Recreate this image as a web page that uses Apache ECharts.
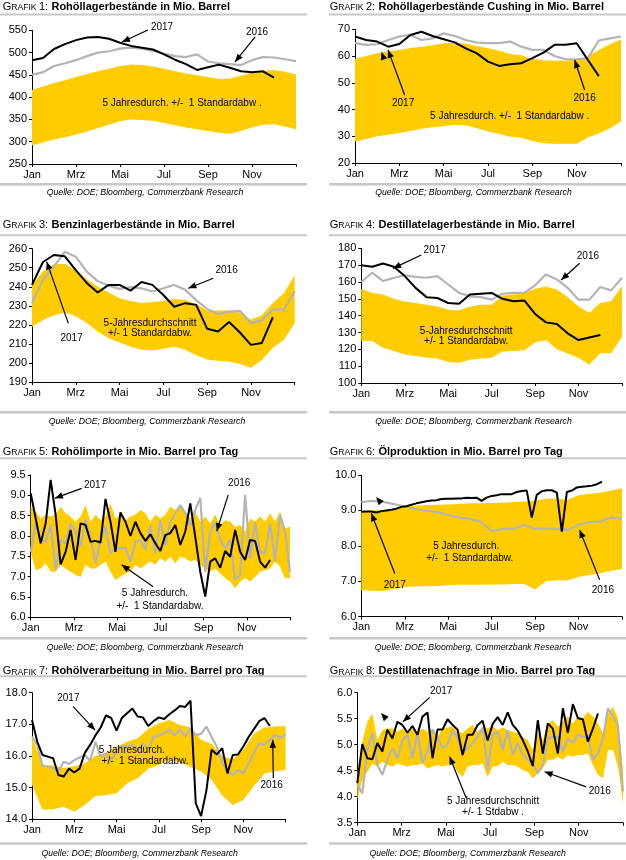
<!DOCTYPE html>
<html><head><meta charset="utf-8">
<script src="https://cdn.jsdelivr.net/npm/echarts@6/dist/echarts.min.js"></script>
<style>html,body{margin:0;padding:0;background:#fff}#c{width:626px;height:860px}</style>
</head><body><div id="c"></div>
<script>
// ---------- DATA ----------
const monthLabels = ['Jan','Mrz','Mai','Jul','Sep','Nov'];
const sourceText = 'Quelle: DOE; Bloomberg, Commerzbank Research';

// Grafik 1 (half-month steps)
const p1Lower = [292,298,305,310,316,323,331,338,346,350,349,347,342,337,332,328,324,320,318,324,332,338,339,334,328];
const p1Upper = [416,424,432,438,445,452,458,464,470,473,472,469,464,458,453,449,445,441,442,448,455,459,461,457,451];
const p1Y2016 = [450,456,470,476,483,492,500,503,509,511,509,504,498,492,490,496,480,476,474,472,483,490,489,485,481];
const p1Y2017 = [483,488,508,519,528,534,535,531,522,515,511,507,496,484,474,461,467,473,466,458,456,458,444];

// Grafik 2
const p2Lower = [28,29,30,30.6,31.2,32,32.8,33.4,33.7,34.3,34,33,31.8,30.8,29.8,29.4,28.2,27.4,27.2,27.2,27.2,29.5,31,33,35.5];
const p2Upper = [59,60,61,61.8,62.3,63,63.5,64,64.8,65,64.6,63.8,62.9,62,60.8,60.3,59,58.4,58.2,58.2,58.6,59.8,62.3,64.4,66.2];
const p2Y2016 = [64.8,64.2,64.4,66,67.3,67.9,66,66.6,68.5,67.5,66,65,64.8,64.8,65.4,63.5,62.3,62.3,60,58.8,58.8,59.2,65.8,66.6,67.3];
const p2Y2017 = [67.3,66,65.4,63.5,64.5,67.9,69.1,67.5,66.3,65.1,62.9,61,57.9,56.3,56.9,57.3,59.2,61.3,64.2,64.2,64.8,58.6,52.5];

// Grafik 3
const p3Lower = [219,222.5,225,226.5,224.5,221,216.5,213,210.8,208.5,207,206.6,207.5,208.5,207,204,201.8,201.2,200.8,199.5,197.5,201.5,208,212,221];
const p3Upper = [241,248,252,252,248.5,244,240,237,234,232.5,231.5,232,232.6,233.6,233,231,227.5,227.5,227.5,226.5,222.7,225,231.5,236.5,246];
const p3Y2016 = [231.5,244,250.6,258.4,255.8,248,243,240.6,238.9,239.8,239.2,237.5,239.2,241,238.4,233,228.4,225.6,227,227.4,220.9,222.5,228,228,237.5];
const p3Y2017 = [241,253,256.7,256,248.8,242,237,241,241,238,242.5,241,235.7,229.5,231.4,230.5,218,216.5,221.5,216,209.5,210.5,224];

// Grafik 4
const p4Lower = [125,125,121,119,117,116,115.2,114.5,112.4,112,113.8,114.5,115,118.7,119,119.5,124,125.5,120,117.5,114.8,111,117.7,117.7,127.5];
const p4Upper = [156,153.5,152.5,150,148.4,147.5,146.5,145.4,143.5,143,145.5,146.4,146.4,152,152.5,153.5,156,157.3,155.5,151,145.5,141.5,147.5,148.5,157.5];
const p4Y2016 = [160,165.5,160.5,162.5,164,163,162.5,163.5,158.5,153.5,151.5,151,149.5,153,153.5,153.5,158,164.5,161.5,156.5,149.5,149.5,157,155,162.5];
const p4Y2017 = [170,169,171,169,163.5,156.5,151,150.5,147.5,147,152.5,153,153.5,150,148.5,149,141,136,135,129.5,125.5,127,128.5];

// Grafik 5 (weekly)
const p5Lower = [7.61,7.16,7.20,7.33,7.12,7.12,7.29,7.2,7.12,7.04,7.0,7.29,7.2,7.2,7.29,7.37,7.12,6.92,7.0,7.08,7.12,7.29,7.2,7.29,7.37,7.29,7.45,7.37,7.49,7.33,7.49,7.45,7.37,7.41,7.29,7.2,7.12,7.2,7.08,6.96,6.88,6.71,6.88,6.96,6.88,7.0,7.12,7.16,7.2,7.37,7.25,6.96,6.96];
const p5Upper = [8.72,8.6,8.43,8.52,8.48,8.52,8.72,8.56,8.48,8.35,8.48,8.76,8.35,8.52,8.39,8.48,8.80,8.43,8.52,8.39,8.48,8.52,8.64,8.56,8.35,8.52,8.43,8.52,8.72,8.64,8.76,8.6,8.43,8.6,8.35,8.48,8.31,8.52,8.27,8.39,8.35,8.23,8.27,8.11,8.43,8.35,8.48,8.35,8.56,8.35,8.6,8.19,8.23];
const p5Y2016 = [7.61,8.31,7.90,7.86,8.27,7.16,7.90,7.82,8.31,8.11,7.74,8.39,7.98,7.33,7.90,8.23,7.57,7.70,7.70,7.71,7.37,7.86,7.90,7.66,8.27,7.57,8.39,7.78,8.35,8.56,8.76,8.56,8.27,8.64,8.94,7.12,8.11,8.35,7.90,7.70,7.90,6.92,7.04,9.01,7.45,8.35,7.61,7.57,8.31,7.37,8.52,8.11,7.12];
const p5Y2017 = [9.05,8.43,7.82,8.31,9.38,8.52,7.30,7.61,8.15,7.41,8.31,8.27,7.86,7.88,7.84,8.91,8.35,7.61,8.58,8.35,8.0,8.35,8.07,7.88,8.04,7.82,7.63,8.02,8.07,8.27,7.78,8.11,8.80,7.98,7.12,6.51,7.37,7.45,7.22,7.63,7.49,8.15,7.61,7.41,7.90,7.88,7.37,7.22,7.41];

// Grafik 6
const p6Lower = [6.75,6.73,6.72,6.78,6.84,6.85,6.86,6.87,6.89,6.9,6.9,6.9,6.91,6.91,6.92,6.92,6.77,7.0,7.03,7.02,7.13,7.18,7.23,7.3,7.35];
const p6Upper = [8.98,9.0,9.01,9.06,9.1,9.13,9.15,9.16,9.17,9.18,9.2,9.2,9.21,9.22,9.24,9.25,9.27,9.33,9.34,9.3,9.43,9.47,9.5,9.56,9.62];
const p6Y2016 = [9.23,9.27,9.24,9.18,9.11,9.04,8.99,8.95,8.87,8.8,8.76,8.68,8.42,8.48,8.48,8.59,8.48,8.49,8.48,8.45,8.59,8.68,8.68,8.8,8.76];
const p6Y2017 = [8.96,8.97,8.97,8.94,8.98,9.0,9.02,9.05,9.1,9.12,9.16,9.2,9.23,9.26,9.28,9.29,9.32,9.33,9.33,9.34,9.34,9.36,9.35,9.36,9.27,9.36,9.41,9.43,9.46,9.46,9.46,9.52,9.55,9.56,8.8,9.44,9.54,9.57,9.57,9.5,8.4,9.52,9.56,9.65,9.67,9.68,9.7,9.74,9.81];

// Grafik 7
const p7Lower = [15.08,14.3,14.32,14.4,14.24,14.45,14.74,14.76,14.82,15.14,15.3,15.6,15.72,15.87,15.8,15.65,15.51,15.25,14.75,14.45,14.61,15.05,15.45,15.52,15.56];
const p7Upper = [16.61,15.72,15.7,15.62,15.68,15.77,16.0,16.1,16.29,16.45,16.56,16.85,17.03,17.14,16.98,16.9,16.51,16.38,16.0,15.9,16.19,16.7,16.9,16.93,16.95];
const p7Y2016 = [16.61,16.35,15.68,15.66,15.62,15.5,15.82,15.75,15.87,15.95,16.03,15.85,16.45,15.98,16.08,15.87,16.14,16.32,16.3,16.35,16.19,16.4,16.2,16.6,16.65,16.72,16.84,16.65,16.84,16.62,16.87,16.66,16.7,16.93,16.6,16.29,15.8,15.5,15.4,15.56,15.45,15.77,16.1,16.4,16.35,16.51,16.66,16.56,16.7];
const p7Y2017 = [17.14,16.45,16.03,15.98,15.93,15.4,15.35,15.6,15.48,15.6,16.1,16.35,16.65,16.9,17.28,17.2,16.8,17.2,17.35,17.5,17.25,17.22,16.95,17.1,17.22,17.17,17.32,17.44,17.58,17.55,17.75,14.5,14.1,14.9,16.2,16.05,16.25,15.45,16.03,16.05,16.3,16.6,16.85,17.1,17.2,16.95];

// Grafik 8 (weekly)
const p8Lower = [3.94,4.32,4.48,4.64,4.58,4.67,4.61,4.58,4.64,4.61,4.58,4.61,4.61,4.64,4.54,4.58,4.61,4.58,4.61,4.64,4.48,4.38,4.58,4.61,4.61,4.64,4.38,4.58,4.59,4.67,4.61,4.61,4.58,4.51,4.48,4.35,4.45,4.54,4.71,4.71,4.77,4.71,4.8,4.77,4.8,4.8,4.83,4.61,4.42,4.35,4.9,4.9,4.58,3.87];
const p8Upper = [4.45,5.06,5.44,5.6,5.09,5.28,5.31,5.31,5.25,5.31,5.22,5.31,5.25,5.31,5.25,5.31,5.15,5.31,5.33,5.35,5.25,5.22,5.31,5.38,5.25,5.33,5.31,5.35,5.28,5.33,5.28,5.25,5.22,5.15,5.09,4.9,5.22,5.09,5.41,5.47,5.35,5.44,5.54,5.41,5.54,5.51,5.63,5.54,5.41,5.22,5.6,5.73,5.51,4.51];
const p8Y2016 = [4.24,4.06,4.9,5.23,4.61,4.42,4.71,4.93,4.74,5.09,5.19,4.74,5.22,4.65,4.87,5.29,5.15,4.93,5.0,5.28,5.12,4.83,4.93,5.03,5.15,5.33,4.51,5.19,5.25,4.9,5.28,4.8,5.03,4.8,4.71,4.64,4.45,4.61,5.12,5.15,5.15,4.87,5.12,5.03,5.19,5.15,5.15,4.71,4.83,5.12,5.7,5.54,5.36,4.1];
const p8Y2017 = [4.26,5.01,4.74,4.72,5.03,4.87,5.29,5.12,5.44,5.38,5.23,5.36,5.19,5.54,5.62,4.74,5.29,5.29,5.49,5.38,5.29,4.8,5.19,5.19,5.38,5.46,5.08,5.4,5.53,5.38,5.62,5.38,5.27,5.09,4.87,4.59,5.47,4.83,5.41,5.31,4.83,5.7,5.23,5.78,5.51,5.49,5.06,5.31,5.6];

// ---------- LAYOUT ----------
const FONT = '"Liberation Sans", Arial, Helvetica, sans-serif';
const YELLOW = '#FFCC00', GRAY = '#b4b4b4', RULE = '#c8c8c8';
const W = 12/52, W8 = 12/53;

const rows = [
  {ty:6.3, r1:13.5, r2:183, sy:193},
  {ty:224.2, r1:234.3, r2:411, sy:421.5},
  {ty:451.6, r1:457.3, r2:637, sy:647.3},
  {ty:670.8, r1:675.3, r2:842.3, sy:854}
];

const panels = [
 {title:'Rohöllagerbestände in Mio. Barrel', row:0, col:0, sx:145,
  grid:[32,30.3,264,133.7], y:[250,550,50,0],
  lower:p1Lower, upper:p1Upper, bs:0.5, s16:p1Y2016, st16:0.5, s17:p1Y2017, st17:0.5,
  notes:[{t:'2017',at:[5.91,557.4]},{a:[[5.27,550.7],[4.09,523.7]]},
         {t:'2016',at:[10.23,546.2]},{a:[[10.14,535],[9.23,478.9]]},
         {t:'5 Jahresdurch. +/-  1 Standardabw .',at:[6.82,386.7]}]},
 {title:'Rohöllagerbestände Cushing in Mio. Barrel', row:0, col:1, sx:473.5,
  grid:[355,29.3,266,133.7], y:[20,70,10,0],
  lower:p2Lower, upper:p2Upper, bs:0.5, s16:p2Y2016, st16:0.5, s17:p2Y2017, st17:0.5,
  notes:[{t:'2017',at:[2.17,42.4]},{a:[[2.24,45.4],[1.49,62.3]]},{h:[[1.34,58.1],[1.19,61.6]]},
         {t:'2016',at:[10.36,44.3]},{a:[[10.36,47.3],[9.91,58.5]]},
         {t:'5 Jahresdurch. +/-  1 Standardabw .',at:[6.98,37.3]}]},
 {title:'Benzinlagerbestände in Mio. Barrel', row:1, col:0, sx:147,
  grid:[32,248.7,262.7,133.3], y:[190,260,10,0],
  lower:p3Lower, upper:p3Upper, bs:0.5, s16:p3Y2016, st16:0.5, s17:p3Y2017, st17:0.5,
  notes:[{t:'2016',at:[8.89,248.8]},{a:[[8.28,244.5],[7.14,239.2]]},
         {t:'2017',at:[1.81,212.9]},{a:[[1.66,220.8],[0.67,253.2]]},
         {t:'5-Jahresdurchschnitt',at:[5.39,220.8]},{t:'+/- 1 Standardabw.',at:[5.39,215.6]}]},
 {title:'Destillatelagerbestände in Mio. Barrel', row:1, col:1, sx:473.5,
  grid:[361.3,248.3,260.7,134.7], y:[100,180,10,0],
  lower:p4Lower, upper:p4Upper, bs:0.5, s16:p4Y2016, st16:0.5, s17:p4Y2017, st17:0.5,
  notes:[{t:'2017',at:[3.38,179]},{a:[[2.76,176],[1.46,168.1]]},
         {t:'2016',at:[10.43,175]},{a:[[10.05,171.1],[9.2,161.2]]},
         {t:'5-Jahresdurchschnitt',at:[4.83,130.5]},{t:'+/- 1 Standardabw.',at:[4.83,124.5]}]},
 {title:'Rohölimporte in Mio. Barrel pro Tag', row:2, col:0, sx:145,
  grid:[30.7,475,259.3,142.3], y:[6,9.5,0.5,1],
  lower:p5Lower, upper:p5Upper, bs:W, s16:p5Y2016, st16:W, s17:p5Y2017, st17:W,
  notes:[{t:'2017',at:[2.98,9.25]},{a:[[2.36,9.17],[1.12,8.93]]},
         {t:'2016',at:[9.65,9.3]},{a:[[9.14,9.01],[8.61,8.12]]},
         {t:'5 Jahresdurch.',at:[5.75,6.59]},{t:'+/-  1 Standardabw.',at:[5.98,6.26]},
         {a:[[5.67,6.75],[4.21,7.29]]}]},
 {title:'Ölproduktion in Mio. Barrel pro Tag', row:2, col:1, sx:473,
  grid:[361.3,475,260.7,141.7], y:[6,10,1,1],
  lower:p6Lower, upper:p6Upper, bs:0.5, s16:p6Y2016, st16:0.5, s17:p6Y2017, st17:W,
  notes:[{t:'2017',at:[1.54,6.89]},{a:[[1.54,7.22],[0.46,8.92]]},{h:[[0.9,9.22],[0.68,9.38]]},
         {t:'2016',at:[11.12,6.75]},{a:[[10.97,7.04],[10.05,8.45]]},
         {t:'5 Jahresdurch.',at:[4.83,7.98]},{t:'+/-  1 Standardabw.',at:[4.99,7.65]}]},
 {title:'Rohölverarbeitung in Mio. Barrel pro Tag', row:3, col:0, sx:139.7,
  grid:[32,692.7,253.6,126.6], y:[14,18,1,1],
  lower:p7Lower, upper:p7Upper, bs:0.5, s16:p7Y2016, st16:0.25, s17:p7Y2017, st17:0.25,
  notes:[{t:'2017',at:[1.72,17.82]},{a:[[1.95,17.56],[2.98,16.82]]},
         {t:'2016',at:[11.34,15.08]},{a:[[11.42,15.3],[11.39,16.51]]},
         {t:'5 Jahresdurch.',at:[4.72,16.19]},{t:'+/-  1 Standardabw.',at:[5.35,15.82]}]},
 {title:'Destillatenachfrage in Mio. Barrel pro Tag', row:3, col:1, sx:467.7,
  grid:[357.3,692.7,265.7,130], y:[3.5,6,0.5,1],
  lower:p8Lower, upper:p8Upper, bs:W8, s16:p8Y2016, st16:W8, s17:p8Y2017, st17:W8,
  notes:[{t:'2017',at:[3.79,6.02]},{a:[[3.27,5.91],[2.06,5.44]]},{h:[[1.3,5.5],[1.07,5.61]]},
         {t:'2016',at:[10.95,4.1]},{a:[[10.34,4.19],[8.46,4.48]]},
         {t:'5 Jahresdurchschnitt',at:[6.13,3.92]},{t:'+/- 1 Stdabw .',at:[6.13,3.71]},
         {a:[[4.92,3.97],[4.17,4.77]]}]}
];

function pairs(arr, step){ return arr.map((v,i)=>[i*step, v]); }

const option = {animation:false, backgroundColor:'#fff', grid:[], xAxis:[], yAxis:[], series:[]};
panels.forEach((p,i)=>{
  option.grid.push({left:p.grid[0], top:p.grid[1], width:p.grid[2], height:p.grid[3], containLabel:false});
  option.xAxis.push({gridIndex:i, type:'value', min:0, max:12, interval:2,
    axisLine:{show:true, onZero:false, lineStyle:{color:'#000', width:1}},
    axisTick:{show:true, length:3, lineStyle:{color:'#000'}},
    axisLabel:{color:'#000', fontSize:11, fontFamily:FONT, margin:5,
      formatter:v=>monthLabels[Math.round(v/2)] && v<12 ? monthLabels[Math.round(v/2)] : ''},
    splitLine:{show:false}});
  const dec = p.y[3];
  option.yAxis.push({gridIndex:i, type:'value', min:p.y[0], max:p.y[1], interval:p.y[2],
    axisLine:{show:true, onZero:false, lineStyle:{color:'#000', width:1}},
    axisTick:{show:true, length:3, lineStyle:{color:'#000'}},
    axisLabel:{color:'#000', fontSize:11, fontFamily:FONT, margin:5, formatter:v=>v.toFixed(dec)},
    splitLine:{show:false}});
  const band = p.lower.map((v,k)=>[k*p.bs, v, p.upper[k]]);
  option.series.push({type:'custom', xAxisIndex:i, yAxisIndex:i, data:band, encode:{x:0, y:[1,2]},
    silent:true, z:1,
    renderItem:(params, api)=>{
      if (params.dataIndex !== 0) return null;
      const pts = [];
      for (let k=0;k<band.length;k++) pts.push(api.coord([band[k][0], band[k][2]]));
      for (let k=band.length-1;k>=0;k--) pts.push(api.coord([band[k][0], band[k][1]]));
      return {type:'polygon', shape:{points:pts}, style:{fill:YELLOW}};
    }});
  option.series.push({type:'line', name:'2016', xAxisIndex:i, yAxisIndex:i, data:pairs(p.s16,p.st16),
    symbol:'none', showSymbol:false, silent:true, z:2, lineStyle:{color:GRAY, width:2.2}});
  option.series.push({type:'line', name:'2017', xAxisIndex:i, yAxisIndex:i, data:pairs(p.s17,p.st17),
    symbol:'none', showSymbol:false, silent:true, z:3, lineStyle:{color:'#000', width:2}});
});

const chart = echarts.init(document.getElementById('c'), null, {renderer:'canvas'});
chart.setOption(option);

function txt(x, y, text, font, extra){
  return Object.assign({type:'text', z:50, style:{x, y, text, font, fill:'#000',
    textAlign:'center', textVerticalAlign:'middle', align:'center', verticalAlign:'middle'}}, extra||{});
}
function head(tip, base, els){
  const dx = tip[0]-base[0], dy = tip[1]-base[1], L = Math.hypot(dx,dy)||1;
  const ux = dx/L, uy = dy/L, nx = -uy, ny = ux, hl = 8, hw = 3.3;
  const bx = tip[0]-ux*hl, by = tip[1]-uy*hl;
  els.push({type:'polygon', z:51, shape:{points:[tip,[bx+nx*hw,by+ny*hw],[bx-nx*hw,by-ny*hw]]}, style:{fill:'#000'}});
}

const els = [];
panels.forEach((p,i)=>{
  const r = rows[p.row];
  const left = p.col===0;
  const tx = left ? 2.7 : 329.7;
  const rx0 = left ? 0 : 329, rx1 = left ? 307 : 626;
  els.push({type:'text', z:50, style:{x:tx, y:r.ty,
    text:'{g|G}{s|RAFIK }{g|'+(i+1)+':} {b|'+p.title+'}',
    rich:{g:{fontSize:11, fontFamily:FONT, fill:'#000', verticalAlign:'bottom'},
          s:{fontSize:8.6, fontFamily:FONT, fill:'#000', verticalAlign:'bottom'},
          b:{fontSize:11, fontWeight:'bold', fontFamily:FONT, fill:'#000', verticalAlign:'bottom'}},
    textVerticalAlign:'middle', verticalAlign:'middle'}});
  els.push({type:'rect', z:50, shape:{x:rx0, y:r.r1, width:rx1-rx0, height:2}, style:{fill:RULE}});
  els.push({type:'rect', z:50, shape:{x:rx0, y:r.r2, width:rx1-rx0, height:2.5}, style:{fill:RULE}});
  els.push(txt(p.sx, r.sy, sourceText, 'italic 8.7px '+FONT, {}));
  const toPx = c => chart.convertToPixel({gridIndex:i}, c);
  p.notes.forEach(n=>{
    if (n.t) { const q = toPx(n.at); els.push(txt(q[0], q[1], n.t, '10px '+FONT)); }
    if (n.a) {
      const a = toPx(n.a[0]), b = toPx(n.a[1]);
      els.push({type:'line', z:51, shape:{x1:a[0], y1:a[1], x2:b[0], y2:b[1]}, style:{stroke:'#000', lineWidth:1.2}});
      head(b, a, els);
    }
    if (n.h) { const a = toPx(n.h[0]), b = toPx(n.h[1]); head(b, a, els); }
  });
});
chart.setOption({graphic:{elements:els}});
</script>
</body></html>
